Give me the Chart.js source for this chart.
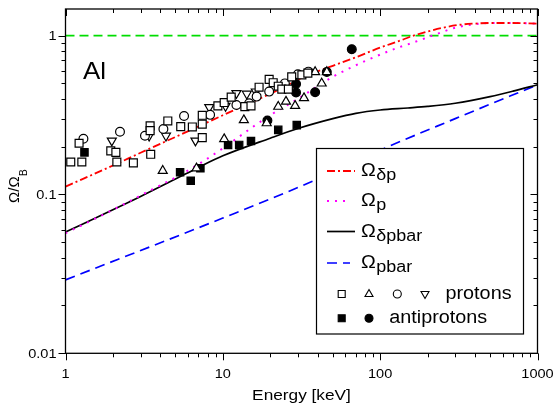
<!DOCTYPE html>
<html><head><meta charset="utf-8">
<script src="https://cdn.jsdelivr.net/npm/chart.js@4/dist/chart.umd.min.js"></script>
<style>html,body{margin:0;padding:0;background:#fff}#c{display:block}</style>
</head><body>
<canvas id="c" width="554" height="410"></canvas>
<script>
// ---- axis ticks / labels ----
const xTickValues = [1, 10, 100, 1000];
const xTickLabels = ['1', '10', '100', '1000'];
const yTickValues = [0.01, 0.1, 1];
const yTickLabels = ['0.01', '0.1', '1'];
const xTitle = 'Energy [keV]';
const yTitleMain = 'Ω/Ω';
const yTitleSub = 'B';
const panelLabel = 'Al';

// ---- theory curves ----
const dpEnergy = [1, 2, 3, 5, 7, 10, 20, 35, 50, 70, 100, 130, 163, 200, 250, 320, 400, 500, 700, 1000];
const dpOmega  = [0.112, 0.152, 0.183, 0.23, 0.268, 0.315, 0.43, 0.566, 0.645, 0.73, 0.84, 0.92, 1.0, 1.06, 1.12, 1.17, 1.19, 1.2, 1.2, 1.19];
const pEnergy  = [1, 2, 3.4, 5, 7, 10, 15, 20, 30, 50, 80, 130, 160, 215, 300, 400, 500, 700, 1000];
const pOmega   = [0.057, 0.08, 0.105, 0.128, 0.155, 0.195, 0.26, 0.315, 0.40, 0.55, 0.69, 0.84, 0.9, 1.0, 1.12, 1.18, 1.2, 1.2, 1.19];
const dpbarEnergy = [1, 2, 3, 5, 7, 10, 20, 30, 50, 70, 100, 150, 200, 300, 500, 700, 1000];
const dpbarOmega  = [0.058, 0.08, 0.097, 0.125, 0.148, 0.175, 0.226, 0.26, 0.30, 0.324, 0.34, 0.35, 0.358, 0.375, 0.413, 0.447, 0.49];
const pbarEnergy = [1, 10, 35, 100, 300, 1000];
const pbarOmega  = [0.029, 0.071, 0.118, 0.19, 0.30, 0.49];
const refEnergy = [1, 1000];
const refOmega  = [1, 1];

// ---- measured points ----
const sqEnergy = [1.08, 1.27, 1.22, 1.94, 2.09, 2.12, 2.7, 3.45, 3.45, 3.48, 4.47, 5.4, 6.4, 7.4, 7.4, 7.4, 9.3, 10.2, 11.3, 13.8, 15.1, 17, 19.7, 20.9, 22.5, 23.7, 26.1, 27.4, 31.8, 34.7];
const sqOmega  = [0.16, 0.16, 0.21, 0.188, 0.184, 0.16, 0.158, 0.27, 0.252, 0.179, 0.29, 0.267, 0.266, 0.277, 0.315, 0.228, 0.361, 0.379, 0.41, 0.357, 0.361, 0.473, 0.53, 0.505, 0.48, 0.46, 0.46, 0.55, 0.566, 0.58];
const ciEnergy = [1.3, 2.22, 3.2, 4.19, 5.67, 8.3, 12.2, 14.7, 16.4, 19.7, 24.8, 30, 35];
const ciOmega  = [0.224, 0.248, 0.234, 0.258, 0.312, 0.317, 0.366, 0.375, 0.413, 0.444, 0.5, 0.57, 0.593];
const dtEnergy = [1.97, 3.4, 4.35, 6.7, 8.2, 10.4, 12.2, 14.2, 16.2];
const dtOmega  = [0.218, 0.234, 0.234, 0.218, 0.354, 0.36, 0.434, 0.43, 0.444];
const utEnergy = [4.15, 6.8, 10.2, 13.6, 19, 22.5, 25.2, 28.8, 32.8, 38.6, 42.5, 45.8];
const utOmega  = [0.141, 0.146, 0.223, 0.294, 0.281, 0.357, 0.384, 0.361, 0.404, 0.59, 0.5, 0.59];
const fsEnergy = [1.32, 5.35, 6.25, 7.2, 10.8, 12.7, 15.1, 22.5, 29.5];
const fsOmega  = [0.184, 0.138, 0.122, 0.146, 0.205, 0.205, 0.217, 0.255, 0.273];
const fcEnergy = [19.2, 29.2, 29.2, 38.6, 45.8, 66];
const fcOmega  = [0.292, 0.496, 0.438, 0.44, 0.59, 0.82];

// ---- legend text ----
const legendMain = ['Ω', 'Ω', 'Ω', 'Ω'];
const legendSub = ['δp', 'p', 'δpbar', 'pbar'];
const legendProtons = 'protons';
const legendAntiprotons = 'antiprotons';

const pts = (xs, ys) => xs.map((x, i) => ({x: x, y: ys[i]}));
const FONT = '"Liberation Sans", Arial, Helvetica, sans-serif';

const curveStyles = [
  {color: '#ff0000', dash: [8, 3, 2, 3], width: 1.8},
  {color: '#ff00ff', dash: [2, 6], width: 2},
  {color: '#000000', dash: [], width: 1.7},
  {color: '#0000ff', dash: [10, 6], width: 1.7}
];

function lineDs(xs, ys, st) {
  return {type: 'line', data: pts(xs, ys), borderColor: st.color, borderDash: st.dash,
    borderWidth: st.width, pointRadius: 0, fill: false, cubicInterpolationMode: 'monotone', order: 2};
}
function markDs(xs, ys, style, r, filled, rot) {
  return {type: 'scatter', data: pts(xs, ys), pointStyle: style, pointRadius: r,
    pointRotation: rot || 0, pointBackgroundColor: filled ? '#000' : '#fff',
    pointBorderColor: '#000', pointBorderWidth: 1.2, showLine: false, order: 1};
}

function txt(ctx, s, x, y, size, align, sx) {
  sx = sx || 1.12;
  ctx.save();
  ctx.font = size + 'px ' + FONT;
  ctx.textAlign = 'left';
  ctx.textBaseline = 'alphabetic';
  const w = ctx.measureText(s).width * sx;
  let x0 = x;
  if (align === 'center') x0 = x - w / 2; else if (align === 'right') x0 = x - w;
  ctx.translate(x0, y); ctx.scale(sx, 1);
  ctx.fillStyle = '#000';
  ctx.fillText(s, 0, 0);
  ctx.restore();
  return w;
}

function marker(ctx, kind, x, y, filled) {
  ctx.save();
  ctx.lineWidth = 1.1; ctx.strokeStyle = '#000'; ctx.fillStyle = filled ? '#000' : '#fff';
  ctx.beginPath();
  if (kind === 'rect') { ctx.rect(x - 3.5, y - 3.5, 7, 7); }
  else if (kind === 'circle') { ctx.arc(x, y, 4, 0, Math.PI * 2); }
  else if (kind === 'up') { ctx.moveTo(x, y - 4.5); ctx.lineTo(x + 4, y + 2.5); ctx.lineTo(x - 4, y + 2.5); ctx.closePath(); }
  else if (kind === 'down') { ctx.moveTo(x, y + 4.5); ctx.lineTo(x + 4, y - 2.5); ctx.lineTo(x - 4, y - 2.5); ctx.closePath(); }
  ctx.fill(); ctx.stroke();
  ctx.restore();
}

const deco = {
  id: 'deco',
  afterDatasetsDraw(chart) {
    const ctx = chart.ctx;
    const xs = chart.scales.x, ys = chart.scales.y;
    const {left: L, right: R, top: T, bottom: B} = chart.chartArea;
    ctx.save();
    ctx.strokeStyle = '#000'; ctx.lineWidth = 1;
    ctx.beginPath();
    for (let d = 0; d < 3; d++) {
      for (let m = 1; m < 10; m++) {
        const v = m * Math.pow(10, d);
        const px = Math.round(xs.getPixelForValue(v)) + 0.5;
        const len = m === 1 ? 7 : 4;
        ctx.moveTo(px, B); ctx.lineTo(px, B + len);
        ctx.moveTo(px, T); ctx.lineTo(px, T + len);
      }
    }
    {
      const px = Math.round(xs.getPixelForValue(1000)) + 0.5;
      ctx.moveTo(px, B); ctx.lineTo(px, B + 7);
      ctx.moveTo(px, T); ctx.lineTo(px, T + 7);
    }
    for (let d = -2; d < 0; d++) {
      for (let m = 1; m < 10; m++) {
        const v = m * Math.pow(10, d);
        const py = Math.round(ys.getPixelForValue(v)) + 0.5;
        const len = m === 1 ? 7 : 4;
        ctx.moveTo(L, py); ctx.lineTo(L - len, py);
        ctx.moveTo(R, py); ctx.lineTo(R - len, py);
      }
    }
    {
      const py = Math.round(ys.getPixelForValue(1)) + 0.5;
      ctx.moveTo(L, py); ctx.lineTo(L - 7, py);
      ctx.moveTo(R, py); ctx.lineTo(R - 7, py);
    }
    ctx.stroke();
    ctx.lineWidth = 1.3;
    ctx.strokeRect(L, T, R - L, B - T);

    xTickValues.forEach((v, i) => txt(ctx, xTickLabels[i], xs.getPixelForValue(v), B + 25, 13, 'center', 1.12));
    yTickValues.forEach((v, i) => txt(ctx, yTickLabels[i], L - 9, ys.getPixelForValue(v) + 4.5, 13, 'right', 1.12));

    txt(ctx, xTitle, (L + R) / 2, 400, 15, 'center', 1.15);
    ctx.save();
    ctx.translate(18.5, 203);
    ctx.rotate(-Math.PI / 2);
    const w1 = txt(ctx, yTitleMain, 0, 0, 15, 'left', 1.0);
    txt(ctx, yTitleSub, w1 + 0.5, 8.5, 10, 'left', 1.0);
    ctx.restore();

    txt(ctx, panelLabel, 83, 79, 24, 'left', 1.08);

    const bx = 316.5, by = 148.5, bw = 207, bh = 185.5;
    ctx.fillStyle = '#fff';
    ctx.fillRect(bx, by, bw, bh);
    ctx.lineWidth = 1.2; ctx.strokeStyle = '#000';
    ctx.strokeRect(bx, by, bw, bh);
    const rowY = [171, 201, 231.5, 263];
    const sampleEnd = [355, 348, 355, 350];
    curveStyles.forEach((st, i) => {
      ctx.save();
      ctx.strokeStyle = st.color; ctx.lineWidth = st.width; ctx.setLineDash(st.dash);
      ctx.beginPath(); ctx.moveTo(327, rowY[i]); ctx.lineTo(sampleEnd[i], rowY[i]); ctx.stroke();
      ctx.restore();
      const w = txt(ctx, legendMain[i], 361, rowY[i] + 5, 18, 'left', 1.1);
      txt(ctx, legendSub[i], 361 + w + 0.5, rowY[i] + 9, 16, 'left', 1.12);
    });
    marker(ctx, 'rect', 341.7, 294, false);
    marker(ctx, 'up', 369, 294, false);
    marker(ctx, 'circle', 397.3, 294, false);
    marker(ctx, 'down', 425, 294, false);
    txt(ctx, legendProtons, 445.5, 298.5, 18, 'left', 1.1);
    marker(ctx, 'rect', 341.7, 318.3, true);
    marker(ctx, 'circle', 369, 318.3, true);
    txt(ctx, legendAntiprotons, 389.3, 323, 18, 'left', 1.1);
    ctx.restore();
  }
};

new Chart(document.getElementById('c'), {
  data: {
    datasets: [
      markDs(sqEnergy, sqOmega, 'rect', 5.6, false),
      markDs(utEnergy, utOmega, 'triangle', 5.2, false),
      markDs(ciEnergy, ciOmega, 'circle', 4.4, false),
      markDs(dtEnergy, dtOmega, 'triangle', 5.2, false, 180),
      markDs(fsEnergy, fsOmega, 'rect', 5.2, true),
      markDs(fcEnergy, fcOmega, 'circle', 4.4, true),
      lineDs(dpEnergy, dpOmega, curveStyles[0]),
      lineDs(pEnergy, pOmega, curveStyles[1]),
      lineDs(dpbarEnergy, dpbarOmega, curveStyles[2]),
      lineDs(pbarEnergy, pbarOmega, curveStyles[3]),
      {type: 'line', data: pts(refEnergy, refOmega), borderColor: '#00dd00', borderDash: [9, 5],
        borderWidth: 1.6, pointRadius: 0, fill: false, order: 3}
    ]
  },
  options: {
    responsive: false,
    animation: false,
    devicePixelRatio: 1,
    layout: {padding: {left: 65.5, right: 16.5, top: 9, bottom: 56.7}},
    plugins: {legend: {display: false}, tooltip: {enabled: false}, title: {display: false}},
    scales: {
      x: {type: 'logarithmic', min: 1, max: 1000, display: false},
      y: {type: 'logarithmic', min: 0.01, max: 1.47, display: false}
    }
  },
  plugins: [deco]
});
</script>
</body></html>
